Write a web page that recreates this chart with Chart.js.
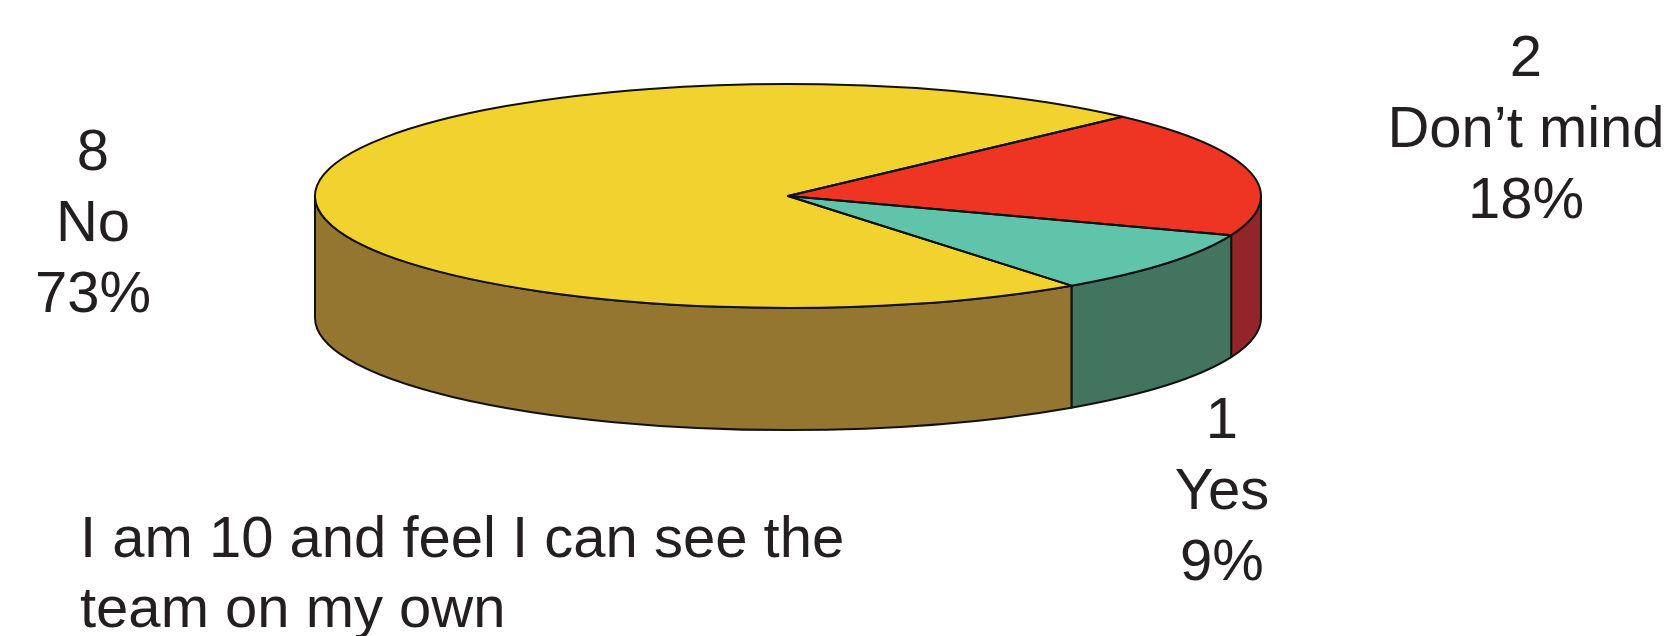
<!DOCTYPE html>
<html>
<head>
<meta charset="utf-8">
<script src="https://cdn.jsdelivr.net/npm/chart.js@4.4.1/dist/chart.umd.min.js"></script>
<style>
  html, body { margin: 0; padding: 0; background: #ffffff; }
  #wrap { position: relative; width: 1673px; height: 636px; }
</style>
</head>
<body>
<div id="wrap"><canvas id="c"></canvas></div>
<script>
// ---- data ----
const categories = ["Don\u2019t mind", "Yes", "No"];
const counts = [2, 1, 8];
const percentLabels = ["18%", "9%", "73%"];
const topColors = ["#ee3524", "#60c4aa", "#f2d22e"];
const sideColors = ["#93252a", "#42745f", "#947631"];
const captionLines = ["I am 10 and feel I can see the", "team on my own"];

// ---- look ----
const RX = 473, RY = 112, DEPTH = 122;
const EDGE = "#111111";
const FONT = '58px "Liberation Sans", Arial, Helvetica, sans-serif';
const TEXT = "#231f20";
const labelAnchors = [
  { x: 1526, y: 76 },   // Don't mind
  { x: 1222, y: 438 },  // Yes
  { x: 93,   y: 170 }   // No
];
const LINE_H = 71;

function frontIntervals(s, e) {
  const out = [];
  for (const k of [-2, 0, 2]) {
    const a = Math.max(s, k * Math.PI), b = Math.min(e, (k + 1) * Math.PI);
    if (b > a) out.push([a, b]);
  }
  return out;
}

const pie3d = {
  id: "pie3d",
  beforeDatasetsDraw(chart) {
    const ctx = chart.ctx;
    const arcs = chart.getDatasetMeta(0).data;
    const { x, y, outerRadius: r } = arcs[0];
    // side walls
    ctx.save();
    ctx.lineWidth = 2;
    ctx.strokeStyle = EDGE;
    ctx.lineJoin = "round";
    arcs.forEach((arc, i) => {
      frontIntervals(arc.startAngle, arc.endAngle).forEach(([a, b]) => {
        ctx.beginPath();
        ctx.moveTo(x + RX * Math.cos(a), y + RY * Math.sin(a));
        ctx.ellipse(x, y, RX, RY, 0, a, b, false);
        ctx.lineTo(x + RX * Math.cos(b), y + DEPTH + RY * Math.sin(b));
        ctx.ellipse(x, y + DEPTH, RX, RY, 0, b, a, true);
        ctx.closePath();
        ctx.fillStyle = sideColors[i];
        ctx.fill();
        ctx.stroke();
      });
    });
    ctx.restore();
    // flatten the top face drawn by Chart.js
    ctx.save();
    ctx.translate(x, y);
    ctx.scale(RX / r, RY / r);
    ctx.translate(-x, -y);
  },
  afterDatasetsDraw(chart) {
    const ctx = chart.ctx;
    ctx.restore();
    const arcs = chart.getDatasetMeta(0).data;
    const { x, y } = arcs[0];
    ctx.save();
    ctx.lineWidth = 2;
    ctx.strokeStyle = EDGE;
    ctx.lineJoin = "round";
    arcs.forEach(arc => {
      ctx.beginPath();
      ctx.moveTo(x, y);
      ctx.ellipse(x, y, RX, RY, 0, arc.startAngle, arc.endAngle, false);
      ctx.closePath();
      ctx.stroke();
    });
    ctx.restore();
  },
  afterDraw(chart) {
    const ctx = chart.ctx;
    ctx.save();
    ctx.font = FONT;
    ctx.fillStyle = TEXT;
    ctx.textBaseline = "alphabetic";
    ctx.textAlign = "center";
    categories.forEach((name, i) => {
      const a = labelAnchors[i];
      [String(counts[i]), name, percentLabels[i]].forEach((t, j) => {
        ctx.fillText(t, a.x, a.y + j * LINE_H);
      });
    });
    ctx.textAlign = "left";
    captionLines.forEach((t, j) => ctx.fillText(t, 80, 557 + j * 70));
    ctx.restore();
  }
};

new Chart(document.getElementById("c"), {
  type: "pie",
  data: {
    labels: categories,
    datasets: [{
      data: counts,
      backgroundColor: topColors,
      borderWidth: 0,
      hoverOffset: 0,
      clip: false
    }]
  },
  options: {
    responsive: true,
    maintainAspectRatio: false,
    animation: false,
    events: [],
    rotation: 45,
    layout: { padding: { left: 592, right: 689, top: 0, bottom: 244 } },
    plugins: { legend: { display: false }, tooltip: { enabled: false } }
  },
  plugins: [pie3d]
});
</script>
</body>
</html>
